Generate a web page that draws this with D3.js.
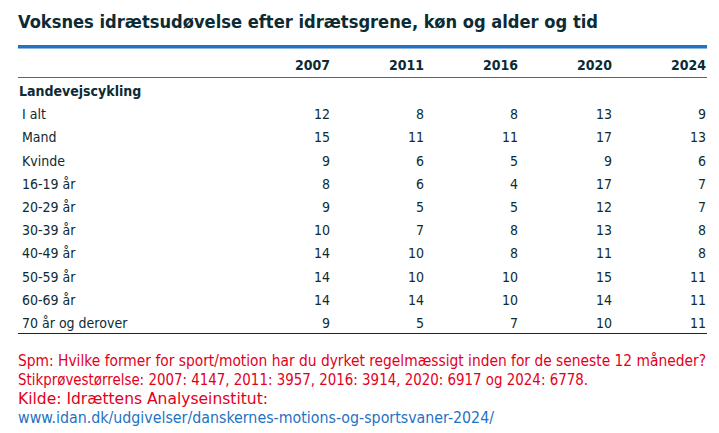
<!DOCTYPE html>
<html><head><meta charset="utf-8">
<script src="https://cdn.jsdelivr.net/npm/d3@7"></script>
<style>body{margin:0;background:#fff;font-family:"DejaVu Sans Condensed","Roboto Condensed",Roboto,sans-serif}</style>
</head><body>
<svg id="c" width="719" height="433"></svg>
<script>
const years = ['2007', '2011', '2016', '2020', '2024'];
const group = 'Landevejscykling';
const rowLabels = ['I alt', 'Mand', 'Kvinde', '16-19 år', '20-29 år', '30-39 år', '40-49 år', '50-59 år', '60-69 år', '70 år og derover'];
const values = [
    [12, 8, 8, 13, 9],
    [15, 11, 11, 17, 13],
    [9, 6, 5, 9, 6],
    [8, 6, 4, 17, 7],
    [9, 5, 5, 12, 7],
    [10, 7, 8, 13, 8],
    [14, 10, 8, 11, 8],
    [14, 10, 10, 15, 11],
    [14, 14, 10, 14, 11],
    [9, 5, 7, 10, 11]
];
const notes = [
    'Spm: Hvilke former for sport/motion har du dyrket regelmæssigt inden for de seneste 12 måneder?',
    'Stikprøvestørrelse: 2007: 4147, 2011: 3957, 2016: 3914, 2020: 6917 og 2024: 6778.',
    'Kilde: Idrættens Analyseinstitut:'
];
const noteWidths = [688, 570, 250];
const link = 'www.idan.dk/udgivelser/danskernes-motions-og-sportsvaner-2024/';

const ink = '#0d2b33', blue = '#1f72c4', red = '#e3001b';
const svg = d3.select('#c');

const x = d3.scalePoint().domain(years).range([330, 706]);
const y = d3.scaleLinear().domain([0, 10]).range([91, 323]);

svg.append('text').attr('x', 18).attr('y', 28)
    .attr('font-size', 18.5).attr('font-weight', 'bold').attr('fill', ink)
    .attr('textLength', 580).attr('lengthAdjust', 'spacingAndGlyphs')
    .text('Voksnes idrætsudøvelse efter idrætsgrene, køn og alder og tid');

svg.append('rect').attr('x', 18).attr('y', 45).attr('width', 689).attr('height', 3.5).attr('fill', blue);
svg.append('line').attr('x1', 18).attr('x2', 707).attr('y1', 77.5).attr('y2', 77.5).attr('stroke', blue).attr('stroke-width', 1);
svg.append('line').attr('x1', 18).attr('x2', 707).attr('y1', 333.5).attr('y2', 333.5).attr('stroke', ink).attr('stroke-width', 1);

svg.selectAll('.hd').data(years).enter().append('text')
    .attr('x', d => x(d)).attr('y', 70).attr('text-anchor', 'end')
    .attr('font-size', 14).attr('font-weight', 'bold').attr('fill', ink).text(d => d);

svg.append('text').attr('x', 19).attr('y', y(0) + 5)
    .attr('font-size', 14).attr('font-weight', 'bold').attr('fill', ink).text(group);

const rows = svg.selectAll('.row').data(rowLabels).enter().append('g')
    .attr('transform', (d, i) => `translate(0,${y(i + 1) + 5})`);
rows.append('text').attr('x', 22).attr('font-size', 14).attr('fill', ink).text(d => d);
rows.each(function (d, i) {
    d3.select(this).selectAll('.v').data(values[i]).enter().append('text')
        .attr('x', (v, j) => x(years[j])).attr('text-anchor', 'end')
        .attr('font-size', 14).attr('fill', ink).text(v => v);
});

svg.selectAll('.note').data(notes).enter().append('text')
    .attr('x', 18).attr('y', (d, i) => 366 + i * 19)
    .attr('font-size', 15).attr('fill', red)
    .attr('textLength', (d, i) => noteWidths[i]).attr('lengthAdjust', 'spacingAndGlyphs')
    .text(d => d);
svg.append('text').attr('x', 18).attr('y', 423)
    .attr('font-size', 15).attr('fill', blue)
    .attr('textLength', 476).attr('lengthAdjust', 'spacingAndGlyphs')
    .text(link);
</script>
</body></html>
